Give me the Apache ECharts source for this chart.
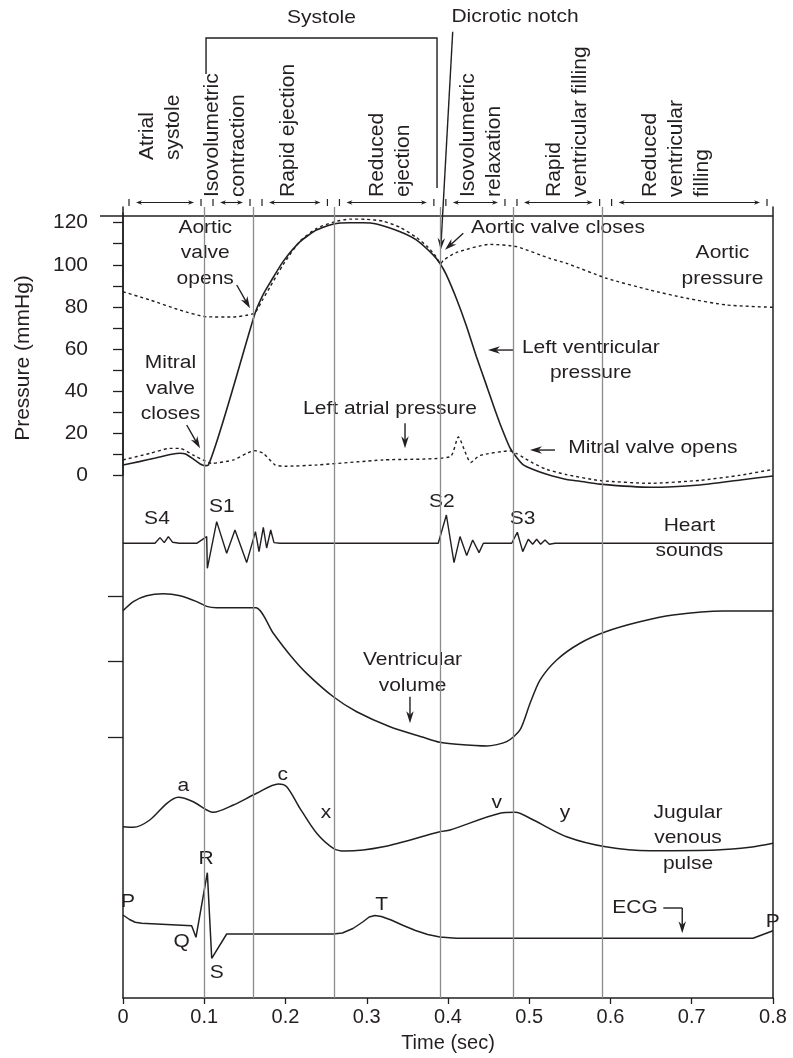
<!DOCTYPE html>
<html>
<head>
<meta charset="utf-8">
<script src="https://cdn.jsdelivr.net/npm/echarts@6/dist/echarts.min.js"></script>
<style>
  html, body { margin: 0; padding: 0; background: #fff; }
  #chart { width: 793px; height: 1058px; }
</style>
</head>
<body>
<div id="chart"></div>
<script>
// ---- Cardiac cycle data (time in seconds) ----
const timeTicks = [0, 0.1, 0.2, 0.3, 0.4, 0.5, 0.6, 0.7, 0.8];
const phaseBounds = [0, 0.1034, 0.1637, 0.259, 0.390, 0.4775, 0.594, 0.8];
const phaseNames = [
  ['Atrial', 'systole'],
  ['Isovolumetric', 'contraction'],
  ['Rapid ejection'],
  ['Reduced', 'ejection'],
  ['Isovolumetric', 'relaxation'],
  ['Rapid', 'ventricular filling'],
  ['Reduced', 'ventricular', 'filling']
];
const pressureTicks = [0, 10, 20, 30, 40, 50, 60, 70, 80, 90, 100, 110, 120];
const pressureLabels = [0, 20, 40, 60, 80, 100, 120];
const volumeTicks = [65, 100, 130];

// aortic pressure, mmHg
const aorticPressure = [
  [0, 87.2], [0.033, 83.3], [0.07, 78.5], [0.103, 75.3], [0.136, 75.2], [0.152, 76],
  [0.1625, 77.2], [0.172, 83.5], [0.181, 89.5], [0.197, 100], [0.218, 111.3], [0.238, 117.2],
  [0.259, 120.3], [0.279, 121.7], [0.3, 121.6], [0.32, 120.7], [0.341, 117.8], [0.361, 113],
  [0.375, 108.5], [0.385, 104], [0.391, 100.5], [0.394, 102], [0.41, 105.8], [0.4517, 109.7],
  [0.4845, 108.6], [0.5255, 103], [0.546, 100.7], [0.595, 93.6], [0.6486, 88], [0.6938, 84.1],
  [0.743, 80.9], [0.8, 79.8]
];
// left ventricular pressure, mmHg
const ventricularPressure = [
  [0, 4.9], [0.02, 6.5], [0.04, 8.2], [0.06, 10], [0.07, 10.5], [0.077, 10.1], [0.087, 7.6],
  [0.095, 5.4], [0.101, 4.6], [0.105, 4.8], [0.1625, 77], [0.172, 85.5], [0.181, 91.5],
  [0.197, 101.5], [0.218, 111], [0.238, 116.5], [0.259, 119.4], [0.279, 120], [0.295, 120],
  [0.312, 119.4], [0.341, 115.7], [0.361, 111.8], [0.382, 104.6], [0.39, 100.7], [0.398, 95.2],
  [0.411, 83.3], [0.423, 70.6], [0.435, 56.3], [0.448, 42], [0.456, 33], [0.464, 24.5],
  [0.4763, 13], [0.4845, 8.5], [0.4927, 5], [0.505, 2.8], [0.5215, 0.5], [0.546, -2],
  [0.5625, -2.8], [0.587, -4.2], [0.649, -5.7], [0.71, -4.6], [0.76, -2.2], [0.8, -0.3]
];
// left atrial pressure, mmHg
const atrialPressure = [
  [0, 7.3], [0.033, 10.4], [0.058, 12.8], [0.07, 12.8], [0.0865, 9.6], [0.0985, 7.3],
  [0.109, 5.7], [0.136, 7.3], [0.152, 10.4], [0.1625, 11.7], [0.1727, 10.4], [0.187, 5],
  [0.2, 4.3], [0.238, 4.9], [0.32, 7.3], [0.4025, 8.8], [0.4127, 18.2], [0.428, 6.1],
  [0.439, 9.4], [0.4763, 11.6], [0.4845, 10.3], [0.4927, 8.5], [0.505, 5.7], [0.5215, 2.8],
  [0.546, 0.3], [0.587, -2.5], [0.649, -3.8], [0.71, -2.4], [0.759, 0], [0.8, 2.8]
];
// phonocardiogram trace
const heartSounds = [
  [0, 0], [0.0394, 0], [0.0455, 5.7], [0.0508, 0.7], [0.0558, 6.7], [0.0611, 1], [0.0693, 0],
  [0.0907, 0], [0.103, 6.7], [0.1038, -25], [0.1153, 21.7], [0.1276, -10], [0.1378, 13.3],
  [0.1522, -19.3], [0.163, 11.7], [0.1674, -8.3], [0.1727, 16], [0.1768, -4.7], [0.1818, 13.3],
  [0.1858, 0.7], [0.1932, 0], [0.388, 0], [0.398, 28.3], [0.4074, -19.3], [0.4148, 6.7],
  [0.423, -12.3], [0.4304, 3.3], [0.4382, -9.3], [0.4435, 0], [0.4784, 0], [0.4853, 11],
  [0.492, -8.3], [0.4988, 4], [0.5042, -1], [0.5091, 4], [0.514, -1], [0.5194, 3.3],
  [0.5247, -1], [0.5317, 0], [0.8, 0]
];
// left ventricular volume, mL
const ventricularVolume = [
  [0, 123.2], [0.0127, 127.4], [0.029, 130.1], [0.0496, 131], [0.0702, 130.1], [0.0907, 127.4],
  [0.103, 125.2], [0.1153, 124.6], [0.1633, 124.6], [0.185, 112.8], [0.2055, 102.8],
  [0.226, 94.3], [0.2589, 83.5], [0.2876, 76.6], [0.3286, 69.7], [0.3696, 64.8], [0.39, 62.5],
  [0.4107, 61.6], [0.4476, 60.8], [0.4722, 62.8], [0.4886, 68.2], [0.501, 80.5], [0.5132, 91.2],
  [0.5338, 100.5], [0.5625, 108.2], [0.594, 113.5], [0.636, 118.1], [0.677, 121.2],
  [0.7385, 123.1], [0.8, 123.1]
];
// jugular venous pulse
const jugularPulse = [
  [0, 43.3], [0.0127, 42.7], [0.033, 50], [0.054, 66.7], [0.068, 72.7], [0.0865, 68.3],
  [0.111, 57.7], [0.1358, 65], [0.1645, 76.7], [0.1912, 86], [0.2015, 83.3], [0.2178, 61.7],
  [0.2384, 36.7], [0.2589, 21.7], [0.2732, 19], [0.3204, 23.3], [0.39, 38.3], [0.4025, 40],
  [0.464, 56.7], [0.4825, 57.7], [0.505, 50], [0.546, 33.3], [0.594, 23.3], [0.6486, 19.3],
  [0.7306, 20], [0.7717, 22.7], [0.8, 26.7]
];
// electrocardiogram
const ecg = [
  [0, 65], [0.008, 60.5], [0.015, 57.8], [0.023, 56.7], [0.0845, 54.3], [0.0898, 42.7],
  [0.1038, 107.3], [0.1092, 21.7], [0.1276, 46], [0.2589, 46], [0.27, 47], [0.283, 51.5],
  [0.295, 58], [0.303, 63], [0.31, 64.5], [0.318, 63.5], [0.33, 60], [0.345, 54.5],
  [0.36, 49.5], [0.375, 45.5], [0.39, 43], [0.41, 41.7], [0.7754, 41.7], [0.8, 49.3]
];

// ---- styling ----
const INK = '#231f20';
const GREY = '#8c8c8c';
const FONT = '"Liberation Sans", Arial, Helvetica, sans-serif';

// panel grids: pressure, heart sounds, volume, jugular pulse, ECG, full frame
const grids = [
  { left: 123, right: 20, top: 213, bottom: 582.7 },
  { left: 123, right: 20, top: 503.3, bottom: 474.7 },
  { left: 123, right: 20, top: 574.3, bottom: 288.6 },
  { left: 123, right: 20, top: 760, bottom: 188 },
  { left: 123, right: 20, top: 860, bottom: 78 },
  { left: 123, right: 20, top: 207, bottom: 59 }
];

const hiddenX = i => ({ type: 'value', gridIndex: i, min: 0, max: 0.8, show: false });
const hiddenY = (i, min, max) => ({ type: 'value', gridIndex: i, min, max, show: false });

const trace = (name, data, idx, opts = {}) => ({
  name, type: 'line', data, xAxisIndex: idx, yAxisIndex: idx,
  showSymbol: false, symbol: 'none', clip: false, silent: true,
  smooth: opts.smooth || 0,
  lineStyle: { color: INK, width: opts.width || 1.5, type: opts.dash ? [3, 3] : 'solid' }
});

const chart = echarts.init(document.getElementById('chart'), null, { renderer: 'canvas' });

chart.setOption({
  animation: false,
  backgroundColor: '#ffffff',
  textStyle: { fontFamily: FONT, color: INK },
  grid: grids,
  xAxis: [
    hiddenX(0), hiddenX(1), hiddenX(2), hiddenX(3), hiddenX(4),
    {
      type: 'value', gridIndex: 5, min: 0, max: 0.8, interval: 0.1,
      axisLine: { show: true, lineStyle: { color: INK, width: 1.5 } },
      axisTick: { show: true, length: 6, lineStyle: { color: INK, width: 1.3 } },
      axisLabel: {
        fontSize: 20, color: INK, fontFamily: FONT, margin: 9,
        formatter: v => (v === 0 ? '0' : v.toFixed(1))
      },
      splitLine: { show: false },
      name: 'Time (sec)', nameLocation: 'middle', nameGap: 35,
      nameTextStyle: { fontSize: 20, color: INK, fontFamily: FONT }
    }
  ],
  yAxis: [
    {
      type: 'value', gridIndex: 0, min: 0, max: 124.6, position: 'left', offset: 23,
      axisLine: { show: true, lineStyle: { color: INK, width: 1.5 } },
      axisTick: { show: true, length: 10, customValues: pressureTicks, lineStyle: { color: INK, width: 1.3 } },
      axisLabel: { show: true, customValues: pressureLabels, fontSize: 21, color: INK, fontFamily: FONT, margin: 12 },
      splitLine: { show: false }
    },
    hiddenY(1, -40, 40),
    {
      type: 'value', gridIndex: 2, min: 50, max: 140, position: 'left',
      axisLine: { show: false },
      axisTick: { show: true, length: 15, customValues: volumeTicks, lineStyle: { color: INK, width: 1.3 } },
      axisLabel: { show: false, customValues: volumeTicks },
      splitLine: { show: false }
    },
    hiddenY(3, 0, 110),
    hiddenY(4, 0, 120),
    {
      type: 'value', gridIndex: 5, min: 0, max: 1, position: 'left',
      axisLine: { show: true, lineStyle: { color: INK, width: 1.5 } },
      axisTick: { show: false }, axisLabel: { show: false }, splitLine: { show: false }
    },
    {
      type: 'value', gridIndex: 5, min: 0, max: 1, position: 'right',
      axisLine: { show: true, lineStyle: { color: INK, width: 1.5 } },
      axisTick: { show: false }, axisLabel: { show: false }, splitLine: { show: false }
    }
  ],
  series: [
    {
      name: 'phases', type: 'line', data: [], xAxisIndex: 5, yAxisIndex: 5, silent: true,
      markLine: {
        silent: true, symbol: 'none', label: { show: false },
        lineStyle: { color: GREY, width: 1.3, type: 'solid' },
        data: phaseBounds.slice(1, -1).map(t => ({ xAxis: t }))
      }
    },
    trace('Aortic pressure', aorticPressure, 0, { smooth: 0.2, dash: true, width: 1.4 }),
    trace('Left ventricular pressure', ventricularPressure, 0, { smooth: 0.2, width: 1.6 }),
    trace('Left atrial pressure', atrialPressure, 0, { smooth: 0.2, dash: true, width: 1.4 }),
    trace('Heart sounds', heartSounds, 1, { width: 1.4 }),
    trace('Ventricular volume', ventricularVolume, 2, { smooth: 0.25, width: 1.5 }),
    trace('Jugular venous pulse', jugularPulse, 3, { smooth: 0.3, width: 1.5 }),
    trace('ECG', ecg, 4, { width: 1.5 })
  ]
});

// ---- annotations, placed in each panel's data coordinates ----
const notes = [
  { g: 0, text: 'Aortic valve closes', at: [0.5354, 117.5], from: [0.4188, 115], to: [0.3963, 107.1] },
  { g: 0, text: 'Aortic\nvalve\nopens', at: [0.1012, 105.5], from: [0.14, 90.4], to: [0.1563, 79.3] },
  { g: 0, text: 'Mitral\nvalve\ncloses', at: [0.0585, 41.2], from: [0.0784, 23.9], to: [0.0948, 12.8] },
  { g: 0, text: 'Left ventricular\npressure', at: [0.5757, 54.6], from: [0.4812, 59.5], to: [0.4492, 59.5] },
  { g: 0, text: 'Left atrial pressure', at: [0.3286, 31.4], from: [0.3471, 24.7], to: [0.3471, 12.8] },
  { g: 0, text: 'Mitral valve opens', at: [0.6523, 12.8], from: [0.5317, 12], to: [0.5009, 12] },
  { g: 0, text: 'Aortic\npressure', at: [0.7378, 99.4] },
  { g: 0, text: 'Dicrotic notch', at: [0.4825, 217.7], from: [0.4058, 210.7], to: [0.391, 107] },
  { g: 1, text: 'S4', at: [0.0418, 24.3] },
  { g: 1, text: 'S1', at: [0.1215, 36.3] },
  { g: 1, text: 'S2', at: [0.3923, 41.6] },
  { g: 1, text: 'S3', at: [0.4919, 24] },
  { g: 1, text: 'Heart\nsounds', at: [0.697, 4.8] },
  { g: 2, text: 'Ventricular\nvolume', at: [0.3563, 94.5], from: [0.3532, 83.5], to: [0.3532, 71.3] },
  { g: 3, text: 'a', at: [0.0742, 84] },
  { g: 3, text: 'c', at: [0.1966, 95] },
  { g: 3, text: 'x', at: [0.2498, 56.7] },
  { g: 3, text: 'v', at: [0.4599, 66.7] },
  { g: 3, text: 'y', at: [0.544, 56.7] },
  { g: 3, text: 'Jugular\nvenous\npulse', at: [0.6954, 31.7] },
  { g: 4, text: 'P', at: [0.0062, 78.3] },
  { g: 4, text: 'Q', at: [0.0722, 38.3] },
  { g: 4, text: 'R', at: [0.1022, 121] },
  { g: 4, text: 'S', at: [0.1153, 6.7] },
  { g: 4, text: 'T', at: [0.3184, 75] },
  { g: 4, text: 'P', at: [0.7996, 58.3] },
  { g: 4, text: 'ECG', at: [0.6302, 71.7], path: [[0.665, 72], [0.6883, 72], [0.6883, 46.7]] }
];

// header layout (pixel rows above the plot)
const header = {
  topLineY: 216, axisX: 100,
  barTop: 199, barBottom: 206, arrowY: 202.5,
  labelBase: 197, atrialBase: 160,
  phaseLabelT: [0.0455, 0.1263, 0.2037, 0.3286, 0.4406, 0.5465, 0.6806],
  systole: { t0: 0.1022, t1: 0.3865, y: 38, leftEnd: 74, rightEnd: 188, textY: 18 }
};

const px = (g, p) => chart.convertToPixel({ gridIndex: g }, p);
const tx = t => px(5, [t, 0])[0];

function text(p, str, o = {}) {
  return {
    type: 'text', x: p[0], y: p[1], silent: true,
    rotation: o.rotation || 0, scaleY: o.scaleY == null ? 0.88 : o.scaleY,
    style: {
      text: str, fill: INK, fontFamily: FONT, fontSize: o.size || 21,
      align: o.align || 'center', verticalAlign: o.va || 'middle', lineHeight: o.lh || 29
    }
  };
}
function seg(a, b, w) {
  return { type: 'line', silent: true, shape: { x1: a[0], y1: a[1], x2: b[0], y2: b[1] },
    style: { stroke: INK, lineWidth: w || 1.4 } };
}
function head(from, tip, L, W) {
  const dx = tip[0] - from[0], dy = tip[1] - from[1];
  const len = Math.hypot(dx, dy) || 1, ux = dx / len, uy = dy / len;
  const bx = tip[0] - ux * L, by = tip[1] - uy * L;
  const nx = tip[0] - ux * L * 0.7, ny = tip[1] - uy * L * 0.7;
  return { type: 'polygon', silent: true,
    shape: { points: [tip, [bx - uy * W / 2, by + ux * W / 2], [nx, ny], [bx + uy * W / 2, by - ux * W / 2]] },
    style: { fill: INK } };
}
function arrowPath(points, L, W, w) {
  const out = [];
  for (let i = 0; i < points.length - 1; i++) {
    const a = points[i], b = points[i + 1];
    if (i === points.length - 2) {
      const dx = b[0] - a[0], dy = b[1] - a[1], len = Math.hypot(dx, dy) || 1;
      out.push(seg(a, [b[0] - dx / len * L * 0.7, b[1] - dy / len * L * 0.7], w));
      out.push(head(a, b, L, W));
    } else {
      out.push(seg(a, b, w));
    }
  }
  return out;
}

function buildGraphics() {
  const els = [];
  // top rule of the diagram
  els.push(seg([header.axisX, header.topLineY], [tx(0.8), header.topLineY], 1.5));

  // pressure axis title
  els.push(text([23, 358], 'Pressure (mmHg)', { rotation: Math.PI / 2, scaleY: 1, size: 21 }));

  // phase spans and their labels
  for (let i = 0; i < phaseNames.length; i++) {
    const l = tx(phaseBounds[i]) + 6, r = tx(phaseBounds[i + 1]) - 6;
    els.push(seg([l, header.barTop], [l, header.barBottom], 1.2));
    els.push(seg([r, header.barTop], [r, header.barBottom], 1.2));
    const a = [l + 7, header.arrowY], b = [r - 7, header.arrowY];
    els.push(seg([a[0] + 4, a[1]], [b[0] - 4, b[1]], 1.1));
    els.push(head(b, a, 6, 4.5));
    els.push(head(a, b, 6, 4.5));
    const base = i === 0 ? header.atrialBase : header.labelBase;
    els.push(text([tx(header.phaseLabelT[i]), base], phaseNames[i].join('\n'),
      { rotation: Math.PI / 2, scaleY: 1, align: 'left', lh: 26, size: 21 }));
  }

  // systole bracket
  const s = header.systole, sl = tx(s.t0), sr = tx(s.t1);
  els.push({ type: 'polyline', silent: true,
    shape: { points: [[sl, s.leftEnd], [sl, s.y], [sr, s.y], [sr, s.rightEnd]] },
    style: { stroke: INK, lineWidth: 1.4, fill: null } });
  els.push(text([(sl + sr) / 2, s.textY], 'Systole'));

  // curve annotations
  notes.forEach(n => {
    els.push(text(px(n.g, n.at), n.text));
    if (n.from) els.push(...arrowPath([px(n.g, n.from), px(n.g, n.to)], 12, 7.5, 1.4));
    if (n.path) els.push(...arrowPath(n.path.map(p => px(n.g, p)), 12, 7.5, 1.4));
  });
  return els;
}

chart.setOption({ graphic: { elements: buildGraphics() } });
</script>
</body>
</html>
